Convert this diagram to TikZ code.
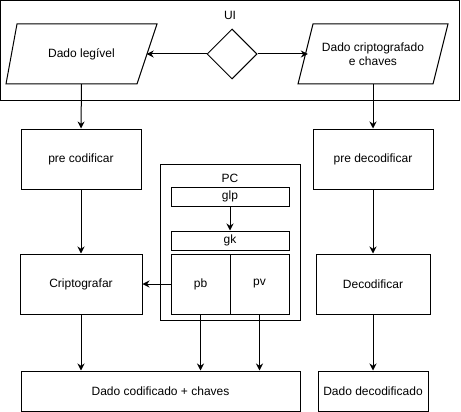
\documentclass[tikz,border=0pt]{standalone}
\usepackage{fontspec}
\setmainfont{Liberation Sans}
\usetikzlibrary{shapes.geometric,arrows.meta}
\begin{document}
\begin{tikzpicture}[x=1pt,y=-1pt,
  font=\fontsize{12}{14}\selectfont,
  box/.style={draw,line width=1pt,rectangle,inner sep=0pt,align=center},
  txt/.style={inner sep=0pt,align=center},
  arr/.style={line width=1pt,-{Stealth[length=7pt,width=7pt]}},
  ln/.style={line width=1pt}]
\useasboundingbox (0,0) rectangle (461,412);
% UI container
\draw[ln] (0.5,0.5) rectangle (459.5,100.5);
\node[txt] (uil) at (230,15) {UI};
% parallelograms
\draw[ln] (17,24) -- (157,24) -- (137,84) -- (6,84) -- cycle;
\node[txt,minimum width=130pt,minimum height=60pt] (dl) at (81.5,54) {Dado legível};
\draw[ln] (313,24) -- (448,24) -- (433,84) -- (298,84) -- cycle;
\node[txt,minimum width=130pt,minimum height=60pt] (dc) at (373,54) {Dado criptografado\\e chaves};
% diamond
\node[draw,line width=1pt,diamond,minimum width=50pt,minimum height=50pt,inner sep=0pt] (dm) at (232,54) {};
\draw[arr] (dm.west) -- (dl.east);
\draw[arr] (dm.east) -- (dc.west);
% left column
\node[box,minimum width=120pt,minimum height=60pt] (pc1) at (81,159) {pre codificar};
\node[box,minimum width=122pt,minimum height=60pt] (cr) at (81,284) {Criptografar};
\node[box,minimum width=279pt,minimum height=40pt] (out1) at (160.5,391) {Dado codificado + chaves};
% right column
\node[box,minimum width=120pt,minimum height=60pt] (pd1) at (373,159) {pre decodificar};
\node[box,minimum width=114pt,minimum height=60pt] (de) at (373,284) {Decodificar};
\node[box,minimum width=110pt,minimum height=40pt] (out2) at (373,391) {Dado decodificado};
% PC
\node[box,minimum width=140pt,minimum height=156pt] (pc) at (230,242) {};
\node[txt] (pcl) at (230,178) {PC};
\node[box,minimum width=118pt,minimum height=19pt] (glp) at (230,196.5) {glp};
\node[box,minimum width=118pt,minimum height=19pt] (gk) at (230,240.5) {gk};
\node[box,minimum width=59pt,minimum height=60pt] (pb) at (200.5,284) {pb};
\node[box,minimum width=59pt,minimum height=60pt] (pv) at (259.5,284) {pv};
% connectors
\draw[arr] (dl.south) -- (pc1.north);
\draw[arr] (pc1.south) -- (cr.north);
\draw[arr] (cr.south) -- (cr.south |- out1.north);
\draw[arr] (dc.south) -- (pd1.north);
\draw[arr] (pd1.south) -- (de.north);
\draw[arr] (de.south) -- (out2.north);
\draw[arr] (glp.south) -- (gk.north);
\draw[arr] (pb.west) -- (cr.east);
\draw[arr] (pb.south) -- (pb.south |- out1.north);
\draw[arr] (pv.south) -- (pv.south |- out1.north);
\end{tikzpicture}
\end{document}
